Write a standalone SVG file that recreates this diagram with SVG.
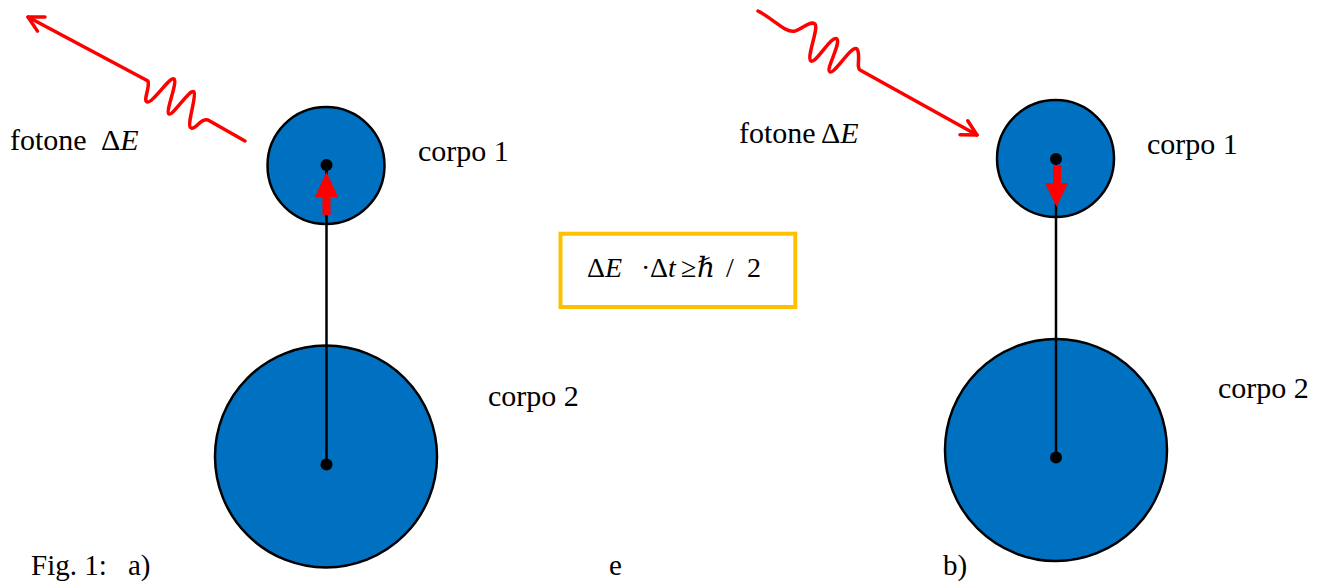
<svg xmlns="http://www.w3.org/2000/svg" width="1327" height="583" viewBox="0 0 1327 583">
<style>
.lbl{font-family:"Liberation Serif","Times New Roman","DejaVu Serif",serif;font-size:30px;fill:#000}
.cap{font-size:29px}
.it{font-style:italic}
.body{fill:#0070C0;stroke:#000;stroke-width:2.5}
.dot{fill:#000}
.link{stroke:#000;stroke-width:2.5;fill:none}
.photon{fill:none;stroke:#FF0000;stroke-width:3.5;stroke-linejoin:round;stroke-linecap:round}
.push{fill:#FF0000}
.frm{font-family:"Liberation Serif","Times New Roman","DejaVu Serif",serif;font-size:28px;fill:#000}
</style>
<defs>
<marker id="open" markerUnits="userSpaceOnUse" viewBox="0 0 20 20" refX="18" refY="10" markerWidth="20" markerHeight="20" orient="auto">
<path d="M3,2 L18,10 L3,18" fill="none" stroke="#FF0000" stroke-width="3.5" stroke-linecap="round" stroke-linejoin="round"/>
</marker>
</defs>
<rect width="1327" height="583" fill="#fff"/>

<g id="a-corpo2"><circle class="body" cx="326" cy="456.5" r="111"/></g>
<g id="a-corpo1"><circle class="body" cx="326" cy="165.5" r="58.5"/></g>
<g id="b-corpo2"><circle class="body" cx="1056" cy="450" r="111"/></g>
<g id="b-corpo1"><circle class="body" cx="1055.5" cy="158.5" r="58.5"/></g>

<g id="connectors">
<line class="link" x1="326.5" y1="165" x2="326.5" y2="464.5"/>
<line class="link" x1="1056" y1="159" x2="1056" y2="457.5"/>
<path class="photon" marker-end="url(#open)" d="M245,141 L208,120 C200,118 196,130 191,128 C186,126 197,96 194,92 C190,88 173,116 169,114 C165,112 178,82 174,79 C170,76 152,104 147,102 C143,100 150,88 148,81 L28,17"/>
<path class="photon" marker-end="url(#open)" d="M758,11 C775,20 785,33 795,31 C803,29 810,20 815,24 C819,28 806,58 811,61 C816,64 832,34 837,39 C841,44 825,70 830,72 C835,74 852,44 857,49 C861,54 856,68 860,70 L977,135"/>
</g>

<g id="a-dots">
<circle class="dot" cx="326.5" cy="165" r="6"/>
<circle class="dot" cx="326.5" cy="464.5" r="6"/>
</g>
<g id="b-dots">
<circle class="dot" cx="1056" cy="159" r="6"/>
<circle class="dot" cx="1056" cy="457.5" r="6"/>
</g>

<g id="a-push"><polygon class="push" points="322.5,215 330.5,215 330.5,197 338,197 326.5,172 315,197 322.5,197"/></g>
<g id="b-push"><polygon class="push" points="1053,165 1061,165 1061,183 1068,183 1056.5,207 1045,183 1053,183"/></g>

<g id="a-labels">
<text class="lbl" x="10" y="150">fotone <tspan x="101">Δ</tspan><tspan class="it">E</tspan></text>
<text class="lbl" x="418" y="161">corpo 1</text>
<text class="lbl" x="488" y="406">corpo 2</text>
</g>
<g id="b-labels">
<text class="lbl" x="739" y="143">fotone <tspan x="821">Δ</tspan><tspan class="it">E</tspan></text>
<text class="lbl" x="1147" y="154">corpo 1</text>
<text class="lbl" x="1218" y="398">corpo 2</text>
</g>

<g id="formula">
<rect x="560.5" y="233.7" width="234.8" height="73.3" fill="#fff" stroke="#FFC000" stroke-width="4"/>
<text class="frm" y="277"><tspan x="587">Δ</tspan><tspan class="it">E</tspan><tspan x="641">·</tspan><tspan x="650">Δ</tspan><tspan class="it">t</tspan><tspan x="681">≥</tspan><tspan x="697" class="it">ℏ</tspan><tspan x="726">/</tspan><tspan x="747">2</tspan></text>
</g>

<g id="caption">
<text class="lbl cap" x="31" y="575">Fig. 1:</text>
<text class="lbl cap" x="128" y="575">a)</text>
<text class="lbl cap" x="609" y="575">e</text>
<text class="lbl cap" x="943" y="575">b)</text>
</g>
</svg>
